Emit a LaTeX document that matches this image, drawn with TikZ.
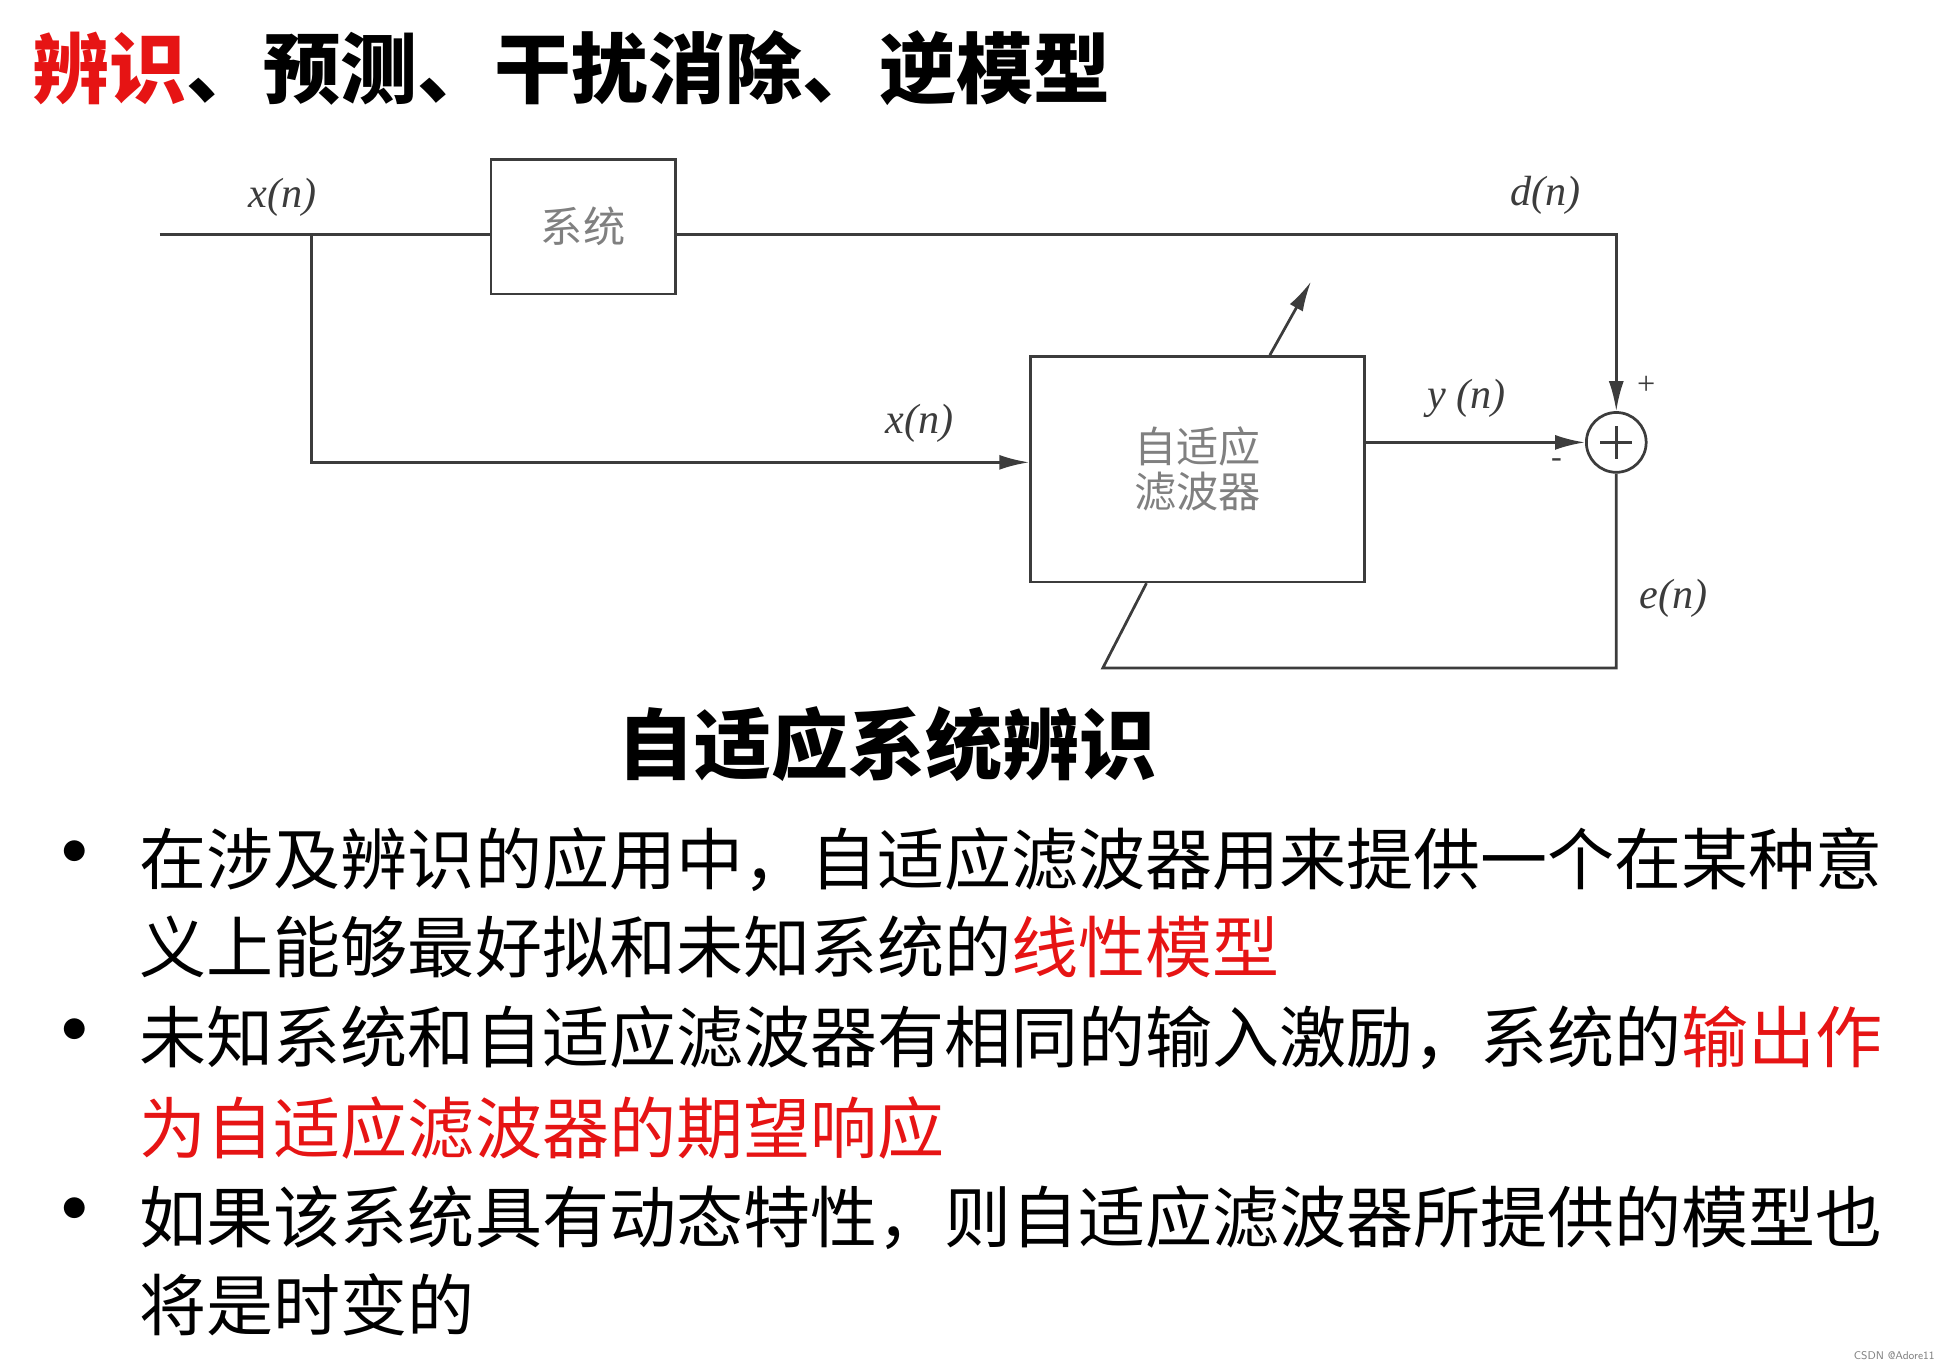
\documentclass[tikz,border=0pt]{standalone}
\usepackage{fontspec}
\usepackage{tikz}
\usetikzlibrary{arrows.meta, positioning, calc}
\newfontfamily\cjk{Noto Sans CJK SC}
\setmainfont{Liberation Serif}
\definecolor{keyred}{RGB}{230, 20, 20}
\definecolor{wiregray}{RGB}{60, 60, 60}

\begin{document}
\begin{tikzpicture}[x=1bp, y=-1bp,
    wire/.style={draw=wiregray, line width=2.2bp},
    blockbox/.style={draw=wiregray, line width=2.2bp, inner sep=0pt},
    sig/.style={font=\fontsize{34}{36}\selectfont\itshape, text=wiregray},
    bodyline/.style={anchor=west, inner sep=0pt, font=\cjk\fontsize{54}{58}\selectfont},
    dot/.style={anchor=center, inner sep=0pt, font=\cjk\bfseries\fontsize{60}{60}\selectfont},
    tip/.style={-{Latex[length=24bp, width=12bp]}}]
  \useasboundingbox (0,0) rectangle (1560,1095);

  % heading
  \node[anchor=west, inner sep=0pt, font=\cjk\bfseries\fontsize{62}{66}\selectfont] (title) at (26,55)
    {\textcolor{keyred}{辨识}、预测、干扰消除、逆模型};

  % blocks
  \node[blockbox, minimum width=148bp, minimum height=108bp, font=\cjk\fontsize{34}{36}\selectfont, text=gray] (plant) at (468,182)
    {系统};
  \node[blockbox, minimum width=268bp, minimum height=181bp, align=center, font=\cjk\fontsize{34}{40}\selectfont, text=gray] (filter) at (961,376.5)
    {自适应\\[-4bp]滤波器};
  \node[draw=wiregray, line width=2.2bp, circle, minimum size=48bp, inner sep=0pt] (sum) at (1297,355) {};
  \draw[wiregray, line width=2bp] (sum.center) ++(-13,0) -- ++(26,0) (sum.center) ++(0,-13) -- ++(0,26);

  \coordinate (in) at (128,188);
  \coordinate (split) at (250,188);
  \coordinate (xrow) at (250,371);
  \coordinate (dcorner) at (1297,188);
  \coordinate (ecorner) at (1297,536);
  \coordinate (efoot) at (885,536);
  \coordinate (ehead) at (920,468);
  \coordinate (tail) at (1019,285);
  \coordinate (tune) at (1052,226);

  % wiring
  \draw[wire] (in) -- (plant.west |- in);
  \draw[wire, tip] (split) -- (xrow) -- (filter.west |- xrow);
  \draw[wire, tip] (plant.east |- in) -- (dcorner) -- (sum.north);
  \draw[wire, tip] (filter.east |- sum) -- (sum.west);
  \draw[wire] (sum.south) -- (ecorner) -- (efoot) -- (ehead);
  \draw[wire, tip] (tail) -- (tune);

  % signal labels
  \node[sig] (xa) at (227,158) {x(n)};
  \node[sig] (dn) at (1240,157) {d(n)};
  \node[sig] (xb) at (738,340) {x(n)};
  \node[sig] (yn) at (1177,320) {y (n)};
  \node[sig] (en) at (1343,480) {e(n)};
  \node[font=\fontsize{26}{26}\selectfont, text=wiregray] (plus) at (1321,309) {+};
  \node[font=\fontsize{26}{26}\selectfont, text=wiregray] (minus) at (1249,372) {-};

  % caption
  \node[font=\cjk\bfseries\fontsize{62}{66}\selectfont] (caption) at (712,597) {自适应系统辨识};

  % bullets
  \foreach \yy in {690,833,977} \node[dot] at (60,\yy) {•};
  \node[bodyline] (l1) at (112,690) {在涉及辨识的应用中，自适应滤波器用来提供一个在某种意};
  \node[bodyline] (l2) at (112,760) {义上能够最好拟和未知系统的\textcolor{keyred}{线性模型}};
  \node[bodyline] (l3) at (112,833) {未知系统和自适应滤波器有相同的输入激励，系统的\textcolor{keyred}{输出作}};
  \node[bodyline, text=keyred] (l4) at (112,905) {为自适应滤波器的期望响应};
  \node[bodyline] (l5) at (112,977) {如果该系统具有动态特性，则自适应滤波器所提供的模型也};
  \node[bodyline] (l6) at (112,1047) {将是时变的};

  \node[anchor=east, font=\fontsize{9}{10}\selectfont\sffamily, text=gray] (mark) at (1556,1088) {CSDN @Adore11};
\end{tikzpicture}
\end{document}
